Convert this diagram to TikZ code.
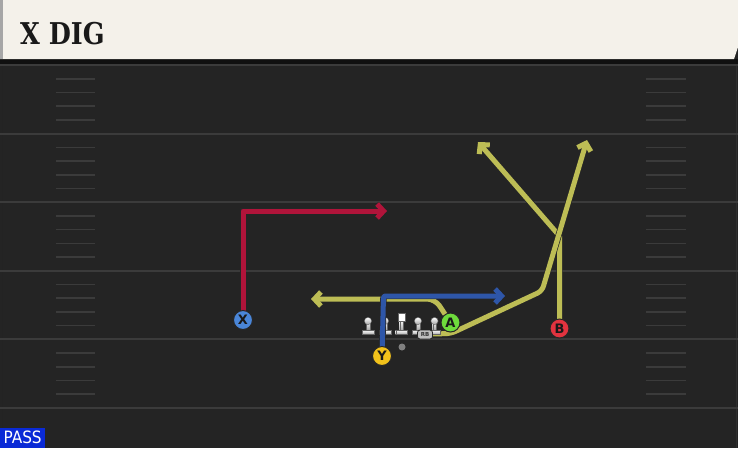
\documentclass[tikz,border=0pt]{standalone}
\usepackage{fontspec}
\newfontfamily\titlefont{DejaVu Serif}
\newfontfamily\uifont{DejaVu Sans Condensed}
\newfontfamily\letterfont{DejaVu Sans}
\usetikzlibrary{arrows.meta}
\definecolor{field}{HTML}{242424}
\definecolor{yard}{HTML}{3B3B3B}
\definecolor{cream}{HTML}{F4F1EA}
\definecolor{rred}{HTML}{B0143A}
\definecolor{rblue}{HTML}{2E56A8}
\definecolor{ryel}{HTML}{BDBD55}
\definecolor{pblue}{HTML}{4A86D8}
\definecolor{pyel}{HTML}{F2C21B}
\definecolor{pgreen}{HTML}{6EDB3C}
\definecolor{pred}{HTML}{E2333F}
\definecolor{passblue}{HTML}{0A2AD6}
\definecolor{lmgrey}{HTML}{DADADA}
\begin{document}
\begin{tikzpicture}[x=1pt,y=-1pt,
  route/.style={line width=5pt, line join=round,
    -{Straight Barb[length=6.5pt,width=14pt]},
    preaction={draw=black!85, line width=6.4pt}},
  player/.style={circle, draw=black!85, line width=1pt, inner sep=0pt,
    minimum size=19pt, font=\letterfont\bfseries\fontsize{13}{13}\selectfont, text=black!90},
  yardline/.style={draw=yard, line width=2pt},
  hashline/.style={draw=yard, line width=1.6pt},
  lmpart/.style={top color=white, bottom color=black!35, draw=black!60, line width=0.4pt},
  lineman/.pic={
    \path[lmpart] (-1.8,0) rectangle (1.8,9);
    \path[lmpart] (-5.8,9) rectangle (5.8,13.5);
    \path[lmpart] (0,0) circle (3.6);
  },
  centerman/.pic={
    \path[lmpart] (-1.8,-1) rectangle (1.8,9);
    \path[lmpart] (-5.8,9) rectangle (5.8,13.5);
    \fill[white, draw=black!60, line width=0.4pt] (-3.8,-7.5) rectangle (3.8,0);
  }]
\useasboundingbox (0,0) rectangle (738,448);
% field
\fill[field] (0,0) rectangle (738,448);
\fill[black!55!field] (0,59) rectangle (738,64);
\draw[draw=black!40!yard, line width=1pt] (2.5,64) -- (2.5,448);
\draw[draw=black!20!yard, line width=1.5pt] (736.5,64) -- (736.5,448);
% yard lines and hashes
\foreach \i in {0,...,5} {
  \draw[yardline] (0,{65+68.6*\i}) -- (738,{65+68.6*\i});
}
\foreach \i in {0,...,4} {
  \foreach \k in {1,...,4} {
    \draw[hashline] (56,{65+68.6*\i+13.72*\k}) -- (95,{65+68.6*\i+13.72*\k});
    \draw[hashline] (646,{65+68.6*\i+13.72*\k}) -- (686,{65+68.6*\i+13.72*\k});
  }
}
% header
\fill[cream] (0,0) -- (738,0) -- (738,47) -- (734,59) -- (0,59) -- cycle;
\fill[black!35] (0,0) rectangle (3,59);
\node[anchor=base west, inner sep=0pt, text=black!90, xscale=0.85, transform shape,
  font=\titlefont\bfseries\fontsize{30}{30}\selectfont] (title) at (20,44) {X DIG};
% player positions
\coordinate (Xc) at (243,320);
\coordinate (Yc) at (382,356);
\coordinate (Ac) at (450.5,322.5);
\coordinate (Bc) at (559.5,328.5);
\coordinate (RBc) at (432,334);
\coordinate (Xturn) at (243,211);
\coordinate (Xend) at (387,211);
\coordinate (Yturn) at (383.5,296);
\coordinate (Yend) at (505,296);
\coordinate (Aturn) at (435,299);
\coordinate (Aend) at (311,299);
\coordinate (Bturn) at (559.5,236);
\coordinate (Bend) at (478,142);
\coordinate (RBa) at (451,333.5);
\coordinate (RBb) at (542,291);
\coordinate (RBend) at (587,140);
% routes
\draw[route, rred] (Xc) -- (Xturn) -- (Xend);
\draw[route, ryel, rounded corners=8pt] (Ac) -- (Aturn) -- (Aend);
\draw[route, ryel] (Bc) -- (Bturn) -- (Bend);
\draw[route, ryel, rounded corners=5pt] (RBc) -- (RBa) -- (RBb) -- (RBend);
% line
\pic at (368,321) {lineman};
\pic at (385,321) {lineman};
\pic at (401.5,321) {centerman};
\pic at (418,321) {lineman};
\pic at (434.5,321) {lineman};
\draw[route, rblue, rounded corners=2pt] (Yc) -- (Yturn) -- (Yend);
\node[circle, fill=black!50, inner sep=0pt, minimum size=7pt] (QB) at (402,347) {};
\node[rounded corners=2.5pt, fill=black!25, draw=black!85, line width=0.8pt,
  minimum width=15pt, minimum height=9pt, inner sep=0pt,
  font=\letterfont\bfseries\fontsize{5.5}{5.5}\selectfont, text=black!80] (RB) at (425,334.5) {RB};
% players
\node[player, fill=pblue] (X) at (Xc) {X};
\node[player, fill=pyel] (Y) at (Yc) {Y};
\node[player, fill=pgreen] (A) at (Ac) {A};
\node[player, fill=pred] (B) at (Bc) {B};
% pass tag
\node[anchor=south west, fill=passblue, text=white, inner sep=0pt,
  minimum width=45pt, minimum height=20pt,
  font=\uifont\fontsize{17}{17}\selectfont] (pass) at (0,448) {PASS};
\end{tikzpicture}
\end{document}
